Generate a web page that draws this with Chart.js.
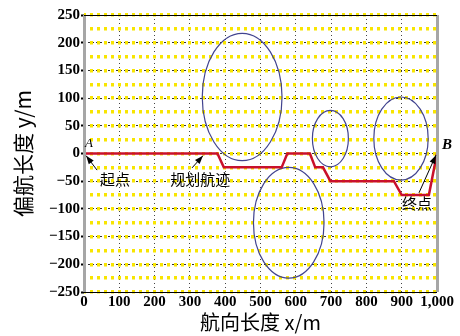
<!DOCTYPE html>
<html>
<head>
<meta charset="utf-8">
<title>Path chart</title>
<style>
  body { margin: 0; background: #fff; }
</style>
</head>
<body>

<canvas id="myChart" width="460" height="336"></canvas>

<script src="https://cdn.jsdelivr.net/npm/chart.js"></script>

<script>

    // planned path (m)
    var pathX = [0, 378, 396, 560, 576, 640, 655, 677, 698, 878, 900, 977, 1000];
    var pathY = [0, 0, -25, -25, 0, 0, -25, -25, -50, -50, -75, -75, 0];

    // obstacles: centre and half axes (m)
    var obsX  = [448, 580, 698, 898];
    var obsY  = [102, -125, 27, 27];
    var obsRx = [113, 100, 51, 77];
    var obsRy = [115, 100, 51, 75];

    // axis ticks
    var xTicks = [0, 100, 200, 300, 400, 500, 600, 700, 800, 900, 1000];
    var yTicks = [-250, -200, -150, -100, -50, 0, 50, 100, 150, 200, 250];
    var yDotRows = [-250, -225, -200, -175, -150, -125, -100, -75, -50, -25, 0,
                    25, 50, 75, 100, 125, 150, 175, 200, 225, 250];

    // labels and arrows, placed in data units
    var notes = [
        { text: 'A', x: 14, y: 18, font: 'italic 13px "Liberation Serif"' },
        { text: 'B', x: 1028, y: 15, font: 'bold italic 15px "Liberation Serif"' },
        { text: '起点', x: 88, y: -46, font: '15px "Noto Sans CJK SC"' },
        { text: '规划航迹', x: 329, y: -46, font: '15px "Noto Sans CJK SC"' },
        { text: '终点', x: 943, y: -89, font: '15px "Noto Sans CJK SC"' }
    ];
    var arrows = [
        { x1: 37, y1: -30, x2: 6, y2: -4 },
        { x1: 306, y1: -26, x2: 337, y2: -4 },
        { x1: 949, y1: -71, x2: 997, y2: -3 }
    ];

    var tickFont = { family: '"Liberation Serif"', size: 15, weight: 'bold' };

    var extras = {
        id: 'extras',
        beforeDatasetsDraw(chart) {
            const ctx = chart.ctx;
            const x = chart.scales.x, y = chart.scales.y;
            ctx.save();
            ctx.strokeStyle = '#41438f';
            ctx.lineWidth = 1.2;
            for (let i = 0; i < obsX.length; i++) {
                const cx = x.getPixelForValue(obsX[i]);
                const cy = y.getPixelForValue(obsY[i]);
                const rx = Math.abs(x.getPixelForValue(obsX[i] + obsRx[i]) - cx);
                const ry = Math.abs(y.getPixelForValue(obsY[i] + obsRy[i]) - cy);
                ctx.beginPath();
                ctx.ellipse(cx, cy, rx, ry, 0, 0, Math.PI * 2);
                ctx.stroke();
            }
            ctx.restore();
        },
        afterDatasetsDraw(chart) {
            const ctx = chart.ctx;
            const a = chart.chartArea;
            const x = chart.scales.x, y = chart.scales.y;
            ctx.save();
            // frame
            ctx.fillStyle = '#a6a6a6';
            ctx.fillRect(a.left - 1, a.top, 3, a.bottom - a.top);
            ctx.fillRect(a.right - 1, a.top, 3, a.bottom - a.top);
            ctx.strokeStyle = '#000';
            ctx.lineWidth = 1;
            ctx.beginPath();
            ctx.moveTo(a.left, a.top + 0.5); ctx.lineTo(a.right, a.top + 0.5);
            ctx.moveTo(a.left, a.bottom + 0.5); ctx.lineTo(a.right, a.bottom + 0.5);
            ctx.stroke();

            // arrows
            ctx.strokeStyle = '#000';
            ctx.fillStyle = '#000';
            ctx.lineWidth = 1;
            arrows.forEach(function (r) {
                const px1 = x.getPixelForValue(r.x1), py1 = y.getPixelForValue(r.y1);
                const px2 = x.getPixelForValue(r.x2), py2 = y.getPixelForValue(r.y2);
                const ang = Math.atan2(py2 - py1, px2 - px1);
                ctx.beginPath();
                ctx.moveTo(px1, py1);
                ctx.lineTo(px2, py2);
                ctx.stroke();
                ctx.beginPath();
                ctx.moveTo(px2, py2);
                ctx.lineTo(px2 - 9 * Math.cos(ang - 0.35), py2 - 9 * Math.sin(ang - 0.35));
                ctx.lineTo(px2 - 9 * Math.cos(ang + 0.35), py2 - 9 * Math.sin(ang + 0.35));
                ctx.closePath();
                ctx.fill();
            });

            // texts
            ctx.textAlign = 'center';
            ctx.textBaseline = 'middle';
            notes.forEach(function (n) {
                ctx.font = n.font;
                ctx.fillText(n.text, x.getPixelForValue(n.x), y.getPixelForValue(n.y));
            });
            ctx.restore();
        }
    };

    const ctx = document.getElementById('myChart');

    const data = {
        datasets: [
            {
                label: '规划航迹',
                data: pathX.map(function (v, i) { return { x: v, y: pathY[i] }; }),
                showLine: true,
                borderColor: '#c9102c',
                borderWidth: 2.5,
                pointRadius: 0,
                fill: false
            }
        ]
    };

    const config = {
        type: 'scatter',
        data: data,
        options: {
            responsive: false,
            animation: false,
            devicePixelRatio: 1,
            layout: { padding: { left: 0, right: 23, top: 15, bottom: 0 } },
            scales: {
                x: {
                    type: 'linear',
                    position: 'bottom',
                    min: 0,
                    max: 1000,
                    afterBuildTicks: function (s) { s.ticks = xTicks.map(function (v) { return { value: v }; }); },
                    afterFit: function (s) { s.height = 44; },
                    ticks: { color: '#000', font: tickFont, padding: 1, maxRotation: 0, autoSkip: false },
                    grid: { color: '#444', lineWidth: 1, drawTicks: false, z: -2 },
                    border: { display: false, dash: [1, 3] },
                    title: {
                        display: true,
                        text: '航向长度 x/m',
                        color: '#000',
                        font: { family: '"Noto Sans CJK SC"', size: 20 },
                        padding: { top: 0, bottom: 2 }
                    }
                },
                y: {
                    type: 'linear',
                    position: 'left',
                    min: -250,
                    max: 250,
                    afterBuildTicks: function (s) { s.ticks = yTicks.map(function (v) { return { value: v }; }); },
                    afterFit: function (s) { s.width = 84; },
                    ticks: {
                        color: '#000',
                        font: tickFont,
                        padding: 1,
                        autoSkip: false,
                        callback: function (v) { return v < 0 ? '\u2212' + Math.abs(v) : String(v); }
                    },
                    grid: { color: '#333', lineWidth: 1, drawTicks: true, tickLength: 3, tickColor: '#000', tickWidth: 2, z: -3 },
                    border: { display: false, dash: [2, 2] },
                    title: {
                        display: true,
                        text: '偏航长度 y/m',
                        color: '#000',
                        font: { family: '"Noto Sans CJK SC"', size: 21 },
                        padding: { top: 10, bottom: 0 }
                    }
                },
                dots: {
                    type: 'linear',
                    position: 'left',
                    min: -250,
                    max: 250,
                    afterBuildTicks: function (s) { s.ticks = yDotRows.map(function (v) { return { value: v }; }); },
                    afterFit: function (s) { s.width = 0; },
                    ticks: { display: false },
                    grid: { color: '#f8e500', lineWidth: 3.5, drawTicks: false, z: -1 },
                    border: { display: false, dash: [3, 4], dashOffset: 1 }
                }
            },
            plugins: {
                legend: { display: false },
                tooltip: { enabled: false }
            }
        },
        plugins: [extras]
    };

    var xChart = new Chart(ctx, config);

</script>

</body>
</html>
